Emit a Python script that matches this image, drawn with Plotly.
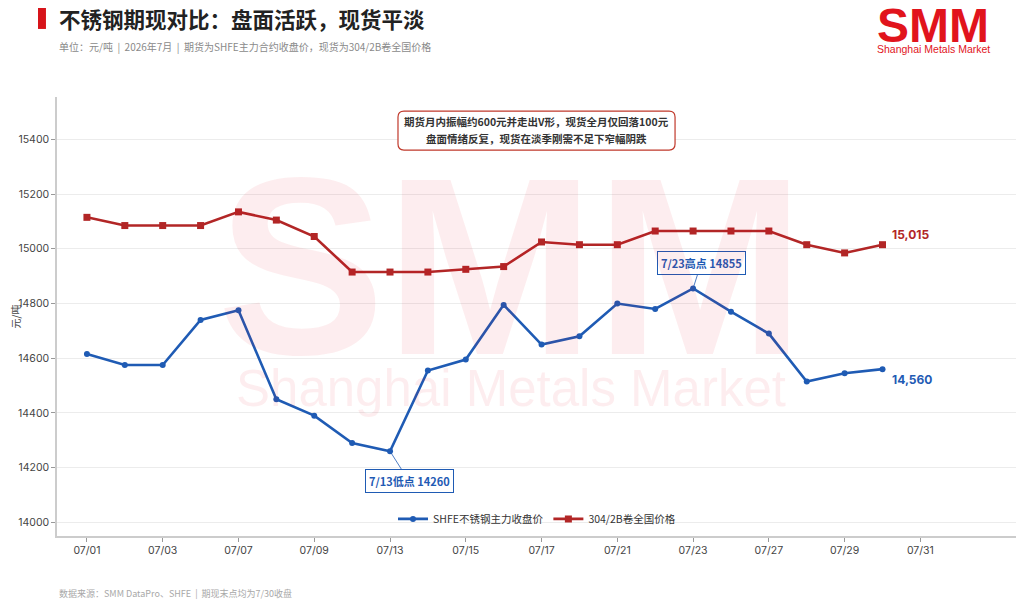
import plotly.graph_objects as go

# trading days in July 2026 (07/31 has no print yet)
dates = ["07/01", "07/02", "07/03", "07/06", "07/07", "07/08", "07/09", "07/10",
         "07/13", "07/14", "07/15", "07/16", "07/17", "07/20", "07/21", "07/22",
         "07/23", "07/24", "07/27", "07/28", "07/29", "07/30"]
axis_days = dates + ["07/31"]
tick_days = axis_days[::2]

shfe_close = [14615, 14575, 14575, 14740, 14775, 14450, 14390, 14290,
              14260, 14555, 14595, 14795, 14650, 14680, 14800, 14780,
              14855, 14770, 14690, 14515, 14545, 14560]
spot_304 = [15115, 15085, 15085, 15085, 15135, 15105, 15045, 14915,
            14915, 14915, 14925, 14935, 15025, 15015, 15015, 15065,
            15065, 15065, 15065, 15015, 14985, 15015]

BLUE = "#1f5bb4"
RED = "#b22626"
FONT = "Inter, Noto Sans CJK SC, sans-serif"
CJK = "Noto Sans CJK SC, sans-serif"

W, H = 1016, 597
ML, MR, MT, MB = 49, 7, 89, 69
PW, PH = W - ML - MR, H - MT - MB


def rounded_box(x0, x1, y0, y1, r=6):
    # path in paper units, r in px
    rx, ry = r / PW, r / PH
    return (f"M {x0 + rx},{y0} L {x1 - rx},{y0} Q {x1},{y0} {x1},{y0 + ry} "
            f"L {x1},{y1 - ry} Q {x1},{y1} {x1 - rx},{y1} "
            f"L {x0 + rx},{y1} Q {x0},{y1} {x0},{y1 - ry} "
            f"L {x0},{y0 + ry} Q {x0},{y0} {x0 + rx},{y0} Z")


fig = go.Figure()

fig.add_trace(go.Scatter(
    x=dates, y=shfe_close, name="SHFE不锈钢主力收盘价",
    mode="lines+markers",
    line=dict(color=BLUE, width=2.6),
    marker=dict(symbol="circle", size=6, color=BLUE),
))
fig.add_trace(go.Scatter(
    x=dates, y=spot_304, name="304/2B卷全国价格",
    mode="lines+markers",
    line=dict(color=RED, width=2.6),
    marker=dict(symbol="square", size=7, color=RED),
))

# low / high callouts
i_low = shfe_close.index(min(shfe_close))
i_high = shfe_close.index(max(shfe_close))
callout = dict(showarrow=True, arrowhead=0, arrowwidth=0.8, arrowcolor=BLUE,
               standoff=0, bgcolor="white", bordercolor=BLUE, borderwidth=1,
               borderpad=3, font=dict(family=CJK, size=11, color=BLUE, weight="bold"))
fig.add_annotation(x=dates[i_low], y=shfe_close[i_low],
                   text=f"7/13低点 {shfe_close[i_low]}", ax=19, ay=30, **callout)
fig.add_annotation(x=dates[i_high], y=shfe_close[i_high],
                   text=f"7/23高点 {shfe_close[i_high]}", ax=8, ay=-25, **callout)

# end labels
fig.add_annotation(x=dates[-1], y=spot_304[-1], text=f"{spot_304[-1]:,}",
                   showarrow=False, xanchor="left", xshift=7, yshift=10,
                   font=dict(family=FONT, size=12, color=RED, weight="bold"))
fig.add_annotation(x=dates[-1], y=shfe_close[-1], text=f"{shfe_close[-1]:,}",
                   showarrow=False, xanchor="left", xshift=7, yshift=-10,
                   font=dict(family=FONT, size=12, color=BLUE, weight="bold"))

# summary box
fig.add_shape(type="path", xref="paper", yref="paper",
              path=rounded_box(0.3552, 0.6438, 0.879, 0.968),
              fillcolor="white", line=dict(color="#c0392b", width=1.2))
summary = ["期货月内振幅约600元并走出V形，现货全月仅回落100元",
           "盘面情绪反复，现货在淡季刚需不足下窄幅阴跌"]
for txt, yy in zip(summary, [0.9431, 0.9066]):
    fig.add_annotation(xref="paper", yref="paper", x=0.4995, y=yy, text=txt,
                       showarrow=False, xanchor="center", yanchor="middle",
                       font=dict(family=CJK, size=10.5, color="#333", weight="bold"))

# watermark
fig.add_annotation(xref="paper", yref="paper", x=0.473, y=0.615, text="SMM",
                   showarrow=False, xanchor="center", yanchor="middle",
                   font=dict(family="Liberation Sans, Arial", size=252,
                             color="rgba(224,0,26,0.07)", weight="bold"))
fig.add_annotation(xref="paper", yref="paper", x=0.473, y=0.335,
                   text="Shanghai Metals Market",
                   showarrow=False, xanchor="center", yanchor="middle",
                   font=dict(family="Liberation Sans, Arial", size=51,
                             color="rgba(224,0,26,0.07)"))

# title block
fig.add_shape(type="rect", xref="paper", yref="paper",
              x0=-0.0198, x1=-0.0115, y0=1.155, y1=1.206,
              fillcolor="#d7141a", line_width=0)
fig.add_annotation(xref="paper", yref="paper", x=0, y=1.178, xanchor="left",
                   yanchor="middle", showarrow=False,
                   text="不锈钢期现对比：盘面活跃，现货平淡",
                   font=dict(family=CJK, size=21.5, color="#222", weight="bold"))
fig.add_annotation(xref="paper", yref="paper", x=0, y=1.116, xanchor="left",
                   yanchor="middle", showarrow=False,
                   text="单位：元/吨  |  2026年7月  |  期货为SHFE主力合约收盘价，现货为304/2B卷全国价格",
                   font=dict(family=CJK, size=10, color="#8a8a8a"))
fig.add_annotation(xref="paper", yref="paper", x=0, y=-0.130, xanchor="left",
                   yanchor="middle", showarrow=False,
                   text="数据来源：SMM DataPro、SHFE  |  期现末点均为7/30收盘",
                   font=dict(family=CJK, size=9, color="#a8a8a8"))

# logo
fig.add_annotation(xref="paper", yref="paper", x=0.913, y=1.162, xanchor="center",
                   yanchor="middle", showarrow=False, text="SMM",
                   font=dict(family="Liberation Sans, Arial", size=48,
                             color="#e1141c", weight="bold"))
fig.add_annotation(xref="paper", yref="paper", x=0.913, y=1.110, xanchor="center",
                   yanchor="middle", showarrow=False, text="Shanghai Metals Market",
                   font=dict(family="Liberation Sans, Arial", size=10.5, color="#e1141c"))

fig.update_layout(
    width=W, height=H,
    margin=dict(l=ML, r=MR, t=MT, b=MB),
    paper_bgcolor="white", plot_bgcolor="white",
    font=dict(family=FONT, size=11, color="#444"),
    showlegend=True,
    legend=dict(orientation="h", x=0.5, xanchor="center", y=0.039, yanchor="middle",
                bgcolor="rgba(0,0,0,0)", font=dict(family=CJK, size=10.5, color="#333"),
                itemwidth=30, tracegroupgap=0),
    xaxis=dict(type="category", categoryorder="array", categoryarray=axis_days,
               tickvals=tick_days, range=[-0.79, 24.55], automargin=False,
               showgrid=False, showline=True, linecolor="#cccccc", linewidth=1.5,
               ticks="outside", ticklen=4, tickcolor="#999", zeroline=False,
               tickfont=dict(size=10.5, color="#444")),
    yaxis=dict(range=[13950, 15555], tickvals=list(range(14000, 15401, 200)),
               tickformat="d", automargin=False,
               showgrid=True, gridcolor="#ececec", gridwidth=1,
               showline=True, linecolor="#cccccc", linewidth=1.5,
               ticks="outside", ticklen=4, tickcolor="#999", zeroline=False,
               tickfont=dict(size=10.5, color="#444"),
               title=dict(text="元/吨",
                          font=dict(family=CJK, size=10, color="#444"))),
)

fig.write_html("out.html")
